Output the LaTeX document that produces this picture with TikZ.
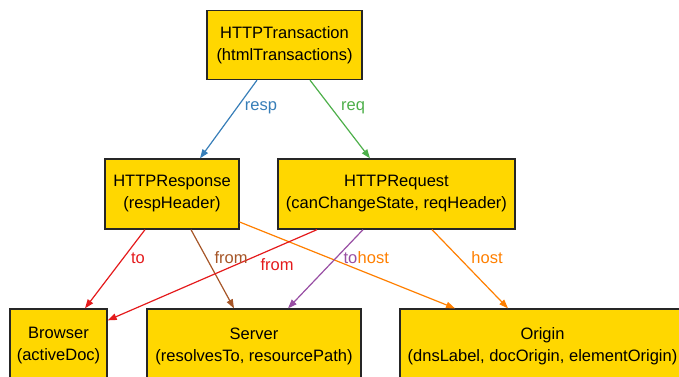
\documentclass[tikz,border=0pt]{standalone}
\usepackage{fontspec}
\setmainfont{Liberation Sans}
\usetikzlibrary{arrows.meta}

\definecolor{boxfill}{HTML}{FFD700}
\definecolor{cred}{HTML}{E41A1C}
\definecolor{cblue}{HTML}{377EB8}
\definecolor{cgreen}{HTML}{4DAF4A}
\definecolor{cpurple}{HTML}{984EA3}
\definecolor{corange}{HTML}{FF7F00}
\definecolor{cbrown}{HTML}{A65628}

\tikzset{
  entity/.style={draw=black!85, line width=1.3pt, fill=boxfill, rectangle,
    align=center, inner sep=0pt, font=\fontsize{16.5}{22}\selectfont},
  rel/.style={line width=1.2pt, -{Triangle[length=9pt,width=6.5pt]}},
  lbl/.style={inner sep=0pt, font=\fontsize{16.5}{19}\selectfont},
}

\begin{document}
\begin{tikzpicture}[x=1pt, y=-1pt]
  \useasboundingbox (0,0) rectangle (679,376);

  % classes
  \node[entity, minimum width=155pt, minimum height=69pt] (trans) at (284.5,45)
    {HTTPTransaction\\(htmlTransactions)};
  \node[entity, minimum width=134pt, minimum height=70pt] (resp) at (172,194)
    {HTTPResponse\\(respHeader)};
  \node[entity, minimum width=237pt, minimum height=70pt] (reqn) at (396.5,194)
    {HTTPRequest\\(canChangeState, reqHeader)};
  \node[entity, minimum width=97pt, minimum height=74pt] (browser) at (58.5,346)
    {Browser\\(activeDoc)};
  \node[entity, minimum width=214pt, minimum height=74pt] (server) at (254,346)
    {Server\\(resolvesTo, resourcePath)};
  \node[entity, minimum width=285pt, minimum height=74pt] (origin) at (542.5,346)
    {Origin\\(dnsLabel, docOrigin, elementOrigin)};

  % relations
  \draw[rel, cblue]   ([xshift=-27.5pt]trans.south) -- ([xshift=28pt]resp.north);
  \draw[rel, cgreen]  ([xshift=25.5pt]trans.south) -- ([xshift=-26.5pt]reqn.north);
  \draw[rel, cred]    ([xshift=-27pt]resp.south) -- ([xshift=26.5pt]browser.north);
  \draw[rel, cbrown]  ([xshift=19pt]resp.south) -- ([xshift=-20pt]server.north);
  \draw[rel, corange] ([yshift=-28pt]resp.east) -- ([xshift=-87.5pt]origin.north);
  \draw[rel, cred]    ([xshift=-79.5pt]reqn.south) -- ([yshift=-12pt]browser.north east);
  \draw[rel, cpurple] ([xshift=-33.5pt]reqn.south) -- ([xshift=34pt]server.north);
  \draw[rel, corange] ([xshift=35.5pt]reqn.south) -- ([xshift=-34.5pt]origin.north);

  % relation names
  \node[lbl, text=cblue]   (lresp)  at (261,108) {resp};
  \node[lbl, text=cgreen]  (lreq)   at (353,108) {req};
  \node[lbl, text=cred]    (lto)    at (138,258) {to};
  \node[lbl, text=cbrown]  (lfromA) at (231,258) {from};
  \node[lbl, text=cred]    (lfromB) at (277,265) {from};
  \node[lbl, text=cpurple, anchor=east] (lto2) at (357.5,258) {to};
  \node[lbl, text=corange, anchor=west] (lhostA) at (lto2.east) {host};
  \node[lbl, text=corange] (lhostB) at (487,258) {host};
\end{tikzpicture}
\end{document}
